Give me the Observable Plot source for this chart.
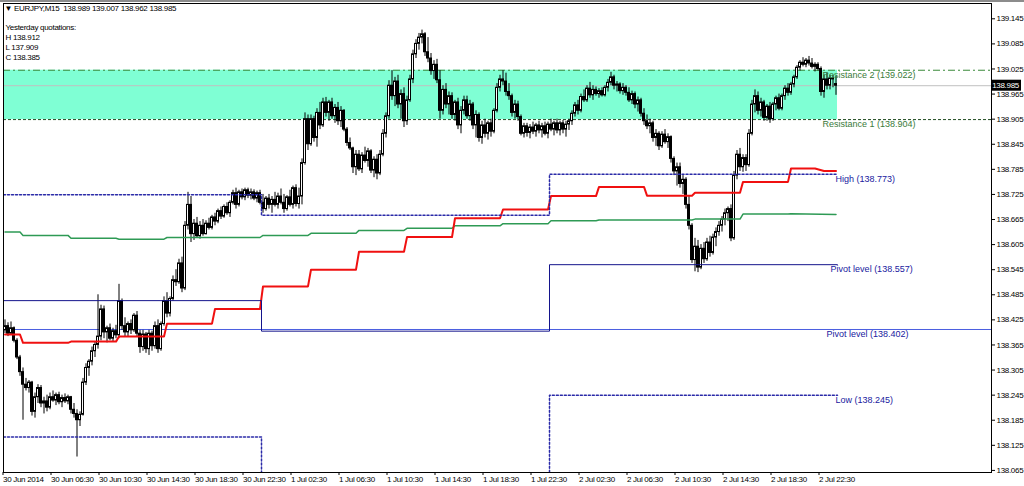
<!DOCTYPE html>
<html><head><meta charset="utf-8">
<script src="https://cdn.jsdelivr.net/npm/d3@7"></script>
<script src="https://cdn.jsdelivr.net/npm/@observablehq/plot@0.6"></script>
<style>
body{margin:0;background:#fff;}
#chart{position:relative;width:1024px;height:486px;overflow:hidden;}
#topbar{position:absolute;left:0;top:0;width:1024px;height:2px;background:#8c8c8c;}
#chart svg text{letter-spacing:-0.3px;}
#chart svg g.objlabel text{letter-spacing:0;}
</style></head><body><div id="chart"><div id="topbar"></div></div>
<script>
// Prices are stored in points (thousandths of a yen) above BASE
const BASE = 138;
const openPts = [400,410,392,405,375,335,300,270,262,275, 205,240,262,225,230,215,240,232,245,228,
238,230,240,210,200,185,198,275,310,325, 350,365,385,450,395,405,380,398,388,470,
410,395,415,400,435,392,360,390,355,392, 362,410,355,415,470,440,475,520,515,560,
500,650,700,630,655,625,650,630,655,645, 670,660,685,672,695,680,705,728,700,730,
718,735,722,730,715,728,705,690,715,700, 712,700,720,705,690,718,700,740,702,720,
800,905,845,905,860,920,890,945,920,945, 912,932,900,925,880,848,835,790,820,785,
818,805,828,782,808,775,820,870,912,985, 960,995,940,965,900,950,1000,1060,1085,1100,
1108,1065,1050,1020,1035,998,925,975,940,960, 915,945,890,925,950,912,940,890,915,860,
890,870,895,875,925,980,1000,995,970,960, 920,940,910,870,888,872,885,875,890,878,
888,870,892,880,895,878,895,880,892,900, 918,938,925,958,950,978,962,975,965,972,
962,980,992,1005,985,988,972,980,968,950, 965,940,950,918,900,888,895,860,870,840,
868,850,862,810,780,790,750,760,700,650, 568,600,550,595,570,610,585,622,635,650,
665,680,690,620,770,820,790,812,795,870, 940,960,925,945,908,935,905,940,955,930,
960,978,968,988,1005,1028,1040,1035,1045,1038, 1030,1035,1025,970,1000,985,1002,989];
const highPts = [425,418,420,408,380,340,310,285,280,278, 250,270,268,240,245,250,255,250,252,245,
248,245,242,225,210,205,285,320,330,360, 372,485,460,458,410,415,405,412,510,475,
430,420,425,440,445,400,400,395,400,398, 420,425,420,480,490,480,530,545,570,575,
660,730,720,665,670,660,665,662,668,675, 680,690,695,700,705,710,735,740,735,738,
740,740,738,736,733,735,725,720,725,720, 730,728,738,725,722,735,745,748,740,810,
920,915,915,912,930,945,955,957,950,955, 940,945,935,928,885,860,838,830,830,825,
838,835,832,815,820,830,880,920,997,1021, 1005,1010,975,980,960,1010,1070,1095,1110,1118,
1112,1100,1062,1045,1048,1021,985,990,970,968, 950,955,935,960,960,950,945,925,920,900,
905,900,905,930,990,1010,1021,1015,990,965, 950,948,915,895,895,892,898,895,900,895,
898,898,905,900,905,900,902,900,905,925, 945,950,965,975,985,993,985,982,978,980,
985,1000,1017,1010,995,992,990,985,980,972, 970,958,955,930,915,905,900,880,875,875,
880,870,865,815,800,800,770,765,720,655, 620,615,605,610,620,625,630,645,660,672,
690,695,700,780,830,835,820,820,880,950, 975,970,955,950,940,945,945,960,965,965,
985,990,993,1010,1033,1045,1052,1050,1055,1050, 1040,1040,1030,1010,1015,1010,1010,1007];
const lowPts = [392,385,388,370,330,290,185,255,250,195, 190,225,215,200,205,210,228,220,222,215,
225,222,200,190,97,170,195,268,290,315, 335,355,375,380,370,375,372,380,380,400,
385,385,390,395,385,345,350,345,340,350, 355,345,350,410,430,432,470,505,510,490,
495,640,610,615,620,618,625,628,640,640, 650,655,665,668,675,670,700,690,695,712,
710,715,712,710,705,700,680,685,690,680, 695,690,700,680,685,695,690,695,690,700,
795,830,840,850,838,880,885,910,900,905, 895,890,885,875,840,830,775,770,780,775,
800,790,775,765,760,770,815,860,905,950, 935,930,905,885,890,945,990,1050,1070,1085,
1055,1040,1010,1000,990,905,915,930,915,905, 900,880,870,915,905,900,880,860,850,845,
860,855,862,870,920,970,985,960,950,910, 905,900,865,860,862,858,868,862,870,860,
865,858,875,865,870,865,870,862,878,890, 910,915,920,945,945,955,950,960,955,958,
958,970,985,975,970,965,962,960,945,940, 930,922,910,890,880,870,850,840,830,835,
845,835,800,770,745,740,725,690,640,560, 540,538,545,560,565,575,580,600,625,635,
650,660,612,615,760,780,778,780,790,865, 920,915,910,900,900,895,900,925,925,925,
950,960,962,980,1000,1020,1030,1028,1032,1025, 1018,1020,960,955,975,975,980,962];
const closePts = [410,392,405,375,335,300,270,262,275,205, 240,262,225,230,215,240,232,245,228,238,
230,240,210,200,185,198,275,310,325,350, 365,385,450,395,405,380,398,388,470,410,
395,415,400,435,392,360,390,355,392,362, 410,355,415,470,440,475,520,515,560,500,
650,700,630,655,625,650,630,655,645,670, 660,685,672,695,680,705,728,700,730,718,
735,722,730,715,728,705,690,715,700,712, 700,720,705,690,718,700,740,702,720,800,
905,845,905,860,920,890,945,920,945,912, 932,900,925,880,848,835,790,820,785,818,
805,828,782,808,775,820,870,912,985,960, 995,940,965,900,950,1000,1060,1085,1100,1108,
1065,1050,1020,1035,998,925,975,940,960,915, 945,890,925,950,912,940,890,915,860,890,
870,895,875,925,980,1000,995,970,960,920, 940,910,870,888,872,885,875,890,878,888,
870,892,880,895,878,895,880,892,900,918, 938,925,958,950,978,962,975,965,972,962,
980,992,1005,985,988,972,980,968,950,965, 940,950,918,900,888,895,860,870,840,868,
850,862,810,780,790,750,760,700,650,568, 600,550,595,570,610,585,622,635,650,665,
680,690,620,770,820,790,812,795,870,940, 960,925,945,908,935,905,940,955,930,960,
978,968,988,1005,1028,1040,1035,1045,1038,1030, 1035,1025,970,1000,985,1002,1000,985];

// indicator lines (bar index, points)
const redBar = [0,5,6,21,22,37,38,53,54,69,70,85,86,101,102,117,118,133,134,149,150,165,166,181,182,197,198,213,214,229,230,245,246,261,262,270,273,277];
const redPts = [390,390,370,370,373,373,385,385,416,416,451,451,505,505,545,545,588,588,623,623,668,668,689,689,721,721,743,743,722,722,729,729,755,755,787,787,781,781];
const greenBar = [0,5,6,21,22,37,38,53,54,85,86,101,102,117,118,133,134,149,150,165,166,181,182,197,198,229,230,245,246,261,262,277];
const greenPts = [635,635,627,627,620,620,618,618,622,622,627,627,632,632,639,639,644,644,650,650,655,655,662,662,664,664,666,666,678,678,679,677];

// daily levels
const dayStart = [-0.5, 85.5, 181.5];
const pivotLvl = [138.471, 138.398, 138.557];
const highLvl = [138.724, 138.675, 138.773];
const lowLvl = [138.145, 137.909, 138.245];
const resistance1 = 138.904, resistance2 = 139.022, pivotMain = 138.402;
const quote = {o:138.989, h:139.007, l:138.962, c:138.985};

const tickBars = [0,16,32,48,64,80,96,112,128,144,160,176,192,208,224,240,256,272];
const tickLabels = ["30 Jun 2014","30 Jun 06:30","30 Jun 10:30","30 Jun 14:30","30 Jun 18:30","30 Jun 22:30",
 "1 Jul 02:30","1 Jul 06:30","1 Jul 10:30","1 Jul 14:30","1 Jul 18:30","1 Jul 22:30",
 "2 Jul 02:30","2 Jul 06:30","2 Jul 10:30","2 Jul 14:30","2 Jul 18:30","2 Jul 22:30"];
const yTicks = [139.145,139.085,139.025,138.965,138.905,138.845,138.785,138.725,138.665,138.605,138.545,138.485,138.425,138.365,138.305,138.245,138.185,138.125,138.065];

const labelsGreen = [
  {text:"Resistance 2 (139.022)", bar:272.5, price:139.022},
  {text:"Resistance 1 (138.904)", bar:272.5, price:138.904}];
const labelsBlue = [
  {text:"High (138.773)", bar:276.8, price:138.773},
  {text:"Pivot level (138.557)", bar:275.2, price:138.557},
  {text:"Pivot level (138.402)", bar:273.8, price:138.402},
  {text:"Low (138.245)", bar:276.8, price:138.245}];

const toPrice = p => BASE + p/1000;
const bars = closePts.map((c,i)=>({i, o:toPrice(openPts[i]), h:toPrice(highPts[i]), l:toPrice(lowPts[i]), c:toPrice(c)}));
const lastBar = bars.length - 1;
const dayEnd = lastBar + 0.5;
const red = redBar.map((b,k)=>({x:b, y:toPrice(redPts[k])}));
const green = greenBar.map((b,k)=>({x:b, y:toPrice(greenPts[k])}));
const stepPts = lv => [...dayStart.map((s,k)=>({x:s, y:lv[k]})), {x:dayEnd, y:lv[lv.length-1]}];

const MT = "Liberation Sans, Arial, sans-serif";
const AR = "Arial, Liberation Sans, sans-serif";

const priceBox = (index, scales, values, dims) => {
  const y = scales.y(quote.c);
  const x0 = dims.width - dims.marginRight + 1;
  const g = d3.create("svg:g");
  g.append("rect").attr("x", x0).attr("y", y - 5.5).attr("width", 29).attr("height", 11).attr("fill", "black");
  g.append("text").attr("x", x0 + 27).attr("y", y).attr("dy", "0.35em").attr("text-anchor", "end")
    .attr("fill", "white").style("fill", "white").attr("font-family", MT).attr("font-size", 8)
    .text(quote.c.toFixed(3));
  return g.node();
};

const chart = Plot.plot({
  width: 1024, height: 486,
  marginLeft: 3, marginRight: 33, marginTop: 3, marginBottom: 14,
  style: {fontFamily: MT, fontSize: "8px", background: "white", color: "black"},
  x: {domain: [-0.5, 328.83]},
  y: {domain: [138.060, 139.1816]},
  marks: [
    Plot.rect([{x1: dayStart[0], x2: dayEnd, y1: resistance1, y2: resistance2}], {x1:"x1", x2:"x2", y1:"y1", y2:"y2", fill:"#7fffd4", inset:0}),
    Plot.ruleY([quote.c], {stroke:"#c0c0c0", strokeWidth:1}),
    Plot.ruleY([resistance2], {stroke:"#3a8a3a", strokeDasharray:"7,3,2,3"}),
    Plot.ruleY([resistance1], {stroke:"#1f4a1f", strokeDasharray:"3,2"}),
    Plot.ruleY([pivotMain], {stroke:"#4a5ee0", strokeWidth:1}),
    Plot.ruleX(bars, {x:"i", y1:"l", y2:"h", stroke:"black", strokeWidth:1}),
    Plot.rect(bars, {x1: d=>d.i-0.33, x2: d=>d.i+0.33, y1:"o", y2:"c", fill: d=> d.c>=d.o ? "white" : "black", stroke:"black", strokeWidth:1, inset:0}),
    Plot.line(green, {x:"x", y:"y", stroke:"#2e9a55", strokeWidth:1.5}),
    Plot.line(red, {x:"x", y:"y", stroke:"#f01010", strokeWidth:2}),
    Plot.line(stepPts(pivotLvl), {x:"x", y:"y", curve:"step-after", stroke:"#14148c", strokeWidth:1, clip:true}),
    Plot.line(stepPts(highLvl), {x:"x", y:"y", curve:"step-after", stroke:"#2a2aa8", strokeDasharray:"2,2", clip:true}),
    Plot.line(stepPts(lowLvl), {x:"x", y:"y", curve:"step-after", stroke:"#2a2aa8", strokeDasharray:"2,2", clip:true}),
    Plot.text(labelsGreen, {x:"bar", y:"price", text:"text", fill:"#3a7a3a", textAnchor:"start", lineAnchor:"top", dy:1, fontFamily:AR, fontSize:9, className:"objlabel"}),
    Plot.text(labelsBlue, {x:"bar", y:"price", text:"text", fill:"#2020a0", textAnchor:"start", lineAnchor:"top", dy:1, fontFamily:AR, fontSize:9, className:"objlabel"}),
    Plot.text([`\u25BC EURJPY,M15  ${quote.o.toFixed(3)} ${quote.h.toFixed(3)} ${quote.l.toFixed(3)} ${quote.c.toFixed(3)}`], {frameAnchor:"top-left", text:d=>d, textAnchor:"start", lineAnchor:"top", dx:1, dy:2, fill:"black"}),
    Plot.text(["Yesterday quotations:\nH 138.912\nL 137.909\nC 138.385"], {frameAnchor:"top-left", text:d=>d, textAnchor:"start", lineAnchor:"top", dx:2, dy:19, lineHeight:1.25, fill:"black"}),
    Plot.frame({stroke:"black"}),
    Plot.axisY({anchor:"right", ticks:yTicks, tickFormat:d=>d.toFixed(3), tickSize:3, tickPadding:2}),
    Plot.axisX({anchor:"bottom", ticks:tickBars, tickFormat:d=>tickLabels[tickBars.indexOf(d)], tickSize:3, tickPadding:1, textAnchor:"start", dx:-2}),
    priceBox
  ]
});
document.getElementById("chart").appendChild(chart);
</script></body></html>
